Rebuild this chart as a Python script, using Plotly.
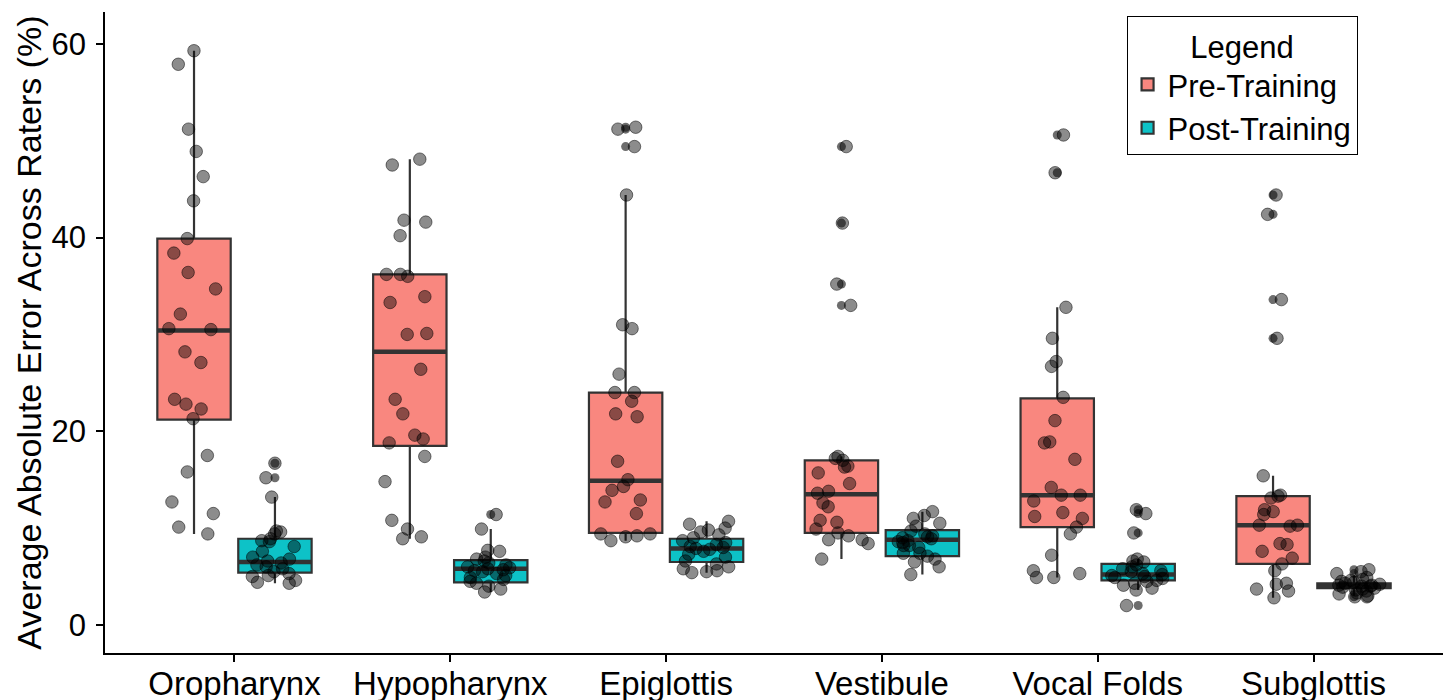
import plotly.graph_objects as go

categories = ["Oropharynx", "Hypopharynx", "Epiglottis", "Vestibule", "Vocal Folds", "Subglottis"]

# Box statistics
pre_q1 = [21.2, 18.5, 9.5, 9.5, 10.1, 6.3]
pre_median = [30.4, 28.2, 14.9, 13.5, 13.4, 10.3]
pre_q3 = [39.9, 36.2, 24.0, 17.0, 23.4, 13.3]
pre_lower = [9.4, 8.9, 8.7, 6.8, 4.9, 2.8]
pre_upper = [59.3, 48.1, 44.4, 17.4, 32.8, 15.4]

post_q1 = [5.4, 4.4, 6.5, 7.1, 4.6, 3.8]
post_median = [6.5, 5.8, 7.9, 8.8, 5.2, 4.0]
post_q3 = [8.9, 6.7, 8.9, 9.8, 6.3, 4.3]
post_lower = [4.3, 3.4, 5.4, 5.2, 3.6, 3.0]
post_upper = [13.2, 9.9, 10.7, 11.7, 6.8, 5.1]

# Boxplot outliers
pre_outliers = {
    "Epiglottis": [51.4, 51.2, 49.4],
    "Vestibule": [49.4, 41.5, 35.2, 33.0],
    "Vocal Folds": [50.6, 46.7],
    "Subglottis": [44.4, 42.4, 33.6, 29.6],
}
post_outliers = {
    "Oropharynx": [16.7, 15.2],
    "Hypopharynx": [11.4],
    "Vocal Folds": [11.9, 11.5, 9.5, 2.0],
    "Subglottis": [5.7, 5.3, 2.9],
}

# Individual rater-averaged values (jittered points)
pre_points = {
    "Oropharynx": [59.3, 57.9, 51.2, 48.9, 46.3, 43.8, 39.9, 38.4, 36.4, 34.7, 32.1, 30.6, 30.5,
                   28.2, 27.1, 23.3, 22.8, 22.3, 21.3, 17.5, 15.8, 12.7, 11.5, 10.1, 9.4],
    "Hypopharynx": [48.1, 47.5, 41.8, 41.6, 40.2, 36.2, 36.2, 36.0, 33.9, 33.3, 30.1, 30.0, 26.4,
                    23.3, 21.8, 19.6, 19.2, 18.8, 17.4, 14.8, 10.8, 9.9, 9.1, 8.9],
    "Epiglottis": [51.4, 51.2, 49.4, 44.4, 31.0, 30.6, 25.9, 24.0, 24.0, 23.1, 21.8, 21.5, 16.9,
                   15.0, 14.3, 13.9, 12.9, 12.7, 11.5, 9.4, 9.4, 9.2, 9.1, 8.7],
    "Vestibule": [49.4, 41.5, 35.2, 33.0, 17.4, 17.2, 17.0, 16.4, 16.3, 15.7, 14.6, 13.8, 13.6,
                  12.6, 12.2, 10.8, 10.6, 9.9, 9.5, 9.2, 8.8, 8.8, 8.4, 6.8],
    "Vocal Folds": [50.6, 46.7, 32.8, 29.6, 27.2, 26.7, 23.5, 21.1, 18.9, 18.8, 17.1, 14.2, 13.4,
                    13.4, 12.8, 11.6, 11.2, 11.0, 10.1, 9.4, 7.2, 5.6, 5.3, 4.9, 4.9],
    "Subglottis": [44.4, 42.4, 33.6, 29.6, 15.4, 13.4, 13.3, 13.1, 11.9, 11.7, 11.4, 10.3, 10.3,
                   10.2, 8.4, 8.3, 7.6, 6.9, 6.3, 5.6, 4.3, 4.2, 3.7, 3.5, 2.8],
}
post_points = {
    "Oropharynx": [16.7, 15.2, 13.2, 9.7, 9.6, 9.4, 8.9, 8.7, 8.6, 8.1, 7.6, 7.0, 6.8, 6.6, 6.4,
                   6.2, 6.0, 5.8, 5.5, 5.3, 5.1, 5.0, 4.6, 4.4, 4.3],
    "Hypopharynx": [11.4, 9.9, 7.7, 7.6, 7.0, 6.8, 6.6, 6.4, 6.2, 6.0, 5.9, 5.8, 5.7, 5.6, 5.5,
                    5.3, 5.1, 4.9, 4.7, 4.5, 4.3, 4.0, 3.7, 3.4],
    "Epiglottis": [10.7, 10.4, 10.0, 9.8, 9.6, 9.3, 9.0, 8.7, 8.5, 8.3, 8.1, 8.0, 7.9, 7.8, 7.6,
                   7.3, 7.0, 6.6, 6.3, 6.0, 5.8, 5.6, 5.5, 5.4],
    "Vestibule": [11.7, 11.3, 11.0, 10.5, 10.2, 9.7, 9.4, 9.2, 9.1, 9.0, 8.9, 8.7, 8.6, 8.5, 8.2,
                  8.2, 8.0, 7.4, 7.4, 7.1, 6.8, 6.5, 6.0, 5.2],
    "Vocal Folds": [11.9, 11.5, 9.5, 6.8, 6.6, 6.5, 6.2, 6.0, 5.8, 5.6, 5.5, 5.3, 5.2, 5.1, 5.0,
                    4.9, 4.8, 4.6, 4.5, 4.3, 4.1, 3.8, 3.6, 2.0],
    "Subglottis": [5.7, 5.5, 5.3, 4.9, 4.7, 4.6, 4.5, 4.4, 4.3, 4.2, 4.1, 4.1, 4.0, 4.0, 3.9, 3.8,
                   3.7, 3.6, 3.5, 3.3, 3.2, 3.0, 2.9, 2.9],
}

group_names = ["Pre-Training", "Post-Training"]
fill_colors = ["rgba(248,118,109,0.88)", "rgba(0,191,196,0.95)"]
DODGE = 0.1875
BOXW = 0.34
FONT = "Liberation Sans, Arial, sans-serif"
LINEC = "#333333"

base = list(range(1, len(categories) + 1))
pre_x = [b - DODGE for b in base]
post_x = [b + DODGE for b in base]

fig = go.Figure()

groups = [
    (group_names[0], pre_x, pre_q1, pre_median, pre_q3, pre_lower, pre_upper, pre_outliers, pre_points, fill_colors[0]),
    (group_names[1], post_x, post_q1, post_median, post_q3, post_lower, post_upper, post_outliers, post_points, fill_colors[1]),
]

# Boxes
for name, xs, q1, med, q3, lo, hi, outl, pts, fc in groups:
    fig.add_trace(go.Box(
        name=name, x=xs, q1=q1, median=med, q3=q3, lowerfence=lo, upperfence=hi,
        width=BOXW, whiskerwidth=0, boxpoints=False, fillcolor=fc,
        line=dict(color=LINEC, width=2.2), showlegend=True, hoverinfo="skip",
    ))

# Thick median lines (degenerate boxes at the median)
for name, xs, q1, med, q3, lo, hi, outl, pts, fc in groups:
    fig.add_trace(go.Box(
        name=name + " median", x=xs, q1=med, median=med, q3=med, lowerfence=med, upperfence=med,
        width=BOXW, whiskerwidth=0, boxpoints=False, fillcolor=fc,
        line=dict(color=LINEC, width=4.5), showlegend=False, hoverinfo="skip",
    ))

# Outliers at box centre
for gi, (name, xs, q1, med, q3, lo, hi, outl, pts, fc) in enumerate(groups):
    ox, oy = [], []
    for ci, cat in enumerate(categories):
        for v in outl.get(cat, []):
            ox.append(xs[ci])
            oy.append(v)
    fig.add_trace(go.Box(
        name=name + " outliers", x=ox, y=oy, width=BOXW, boxpoints="all", jitter=0, pointpos=0,
        fillcolor="rgba(0,0,0,0)", line=dict(color="rgba(0,0,0,0)", width=0),
        marker=dict(color="rgba(20,20,20,0.62)", size=9, line=dict(width=0)),
        showlegend=False, hoverinfo="y",
    ))

# Jittered points
for gi, (name, xs, q1, med, q3, lo, hi, outl, pts, fc) in enumerate(groups):
    px, py = [], []
    for ci, cat in enumerate(categories):
        for v in pts[cat]:
            px.append(xs[ci])
            py.append(v)
    fig.add_trace(go.Box(
        name=name + " points", x=px, y=py, width=BOXW, boxpoints="all", jitter=0.75, pointpos=0,
        fillcolor="rgba(0,0,0,0)", line=dict(color="rgba(0,0,0,0)", width=0),
        marker=dict(color="rgba(0,0,0,0.45)", size=12.5,
                    line=dict(width=1, color="rgba(0,0,0,0.5)")),
        showlegend=False, hoverinfo="y",
    ))

fig.update_layout(
    width=1444, height=700,
    margin=dict(l=97, r=9, t=4, b=55),
    paper_bgcolor="white", plot_bgcolor="white",
    font=dict(family=FONT, size=32, color="black"),
    boxmode="overlay",
    showlegend=True,
    legend=dict(
        title=dict(text="Legend", side="top center", font=dict(size=31, color="black")),
        x=0.7635, y=0.993, xanchor="left", yanchor="top",
        bordercolor="black", borderwidth=1, bgcolor="white",
        font=dict(size=31, color="black"),
        tracegroupgap=0, itemwidth=30,
    ),
    xaxis=dict(
        range=[0.4, 6.6], tickmode="array", tickvals=base, ticktext=categories,
        showline=True, linecolor="black", linewidth=1.5, showgrid=False, zeroline=False,
        ticks="outside", ticklen=7, tickwidth=1.5, tickcolor="black", automargin=False,
        tickfont=dict(size=33, color="black"), ticklabelstandoff=-6,
    ),
    yaxis=dict(
        range=[-2.9, 63.3], tickmode="array", tickvals=[0, 20, 40, 60],
        showline=True, linecolor="black", linewidth=1.5, showgrid=False, zeroline=False,
        ticks="outside", ticklen=7, tickwidth=1.5, tickcolor="black", automargin=False,
        tickfont=dict(size=31, color="black"), ticklabelstandoff=4,
        title=dict(text="Average Absolute Error Across Raters (%)", font=dict(size=34, color="black"), standoff=0),
    ),
)

fig.write_html("out.html")
